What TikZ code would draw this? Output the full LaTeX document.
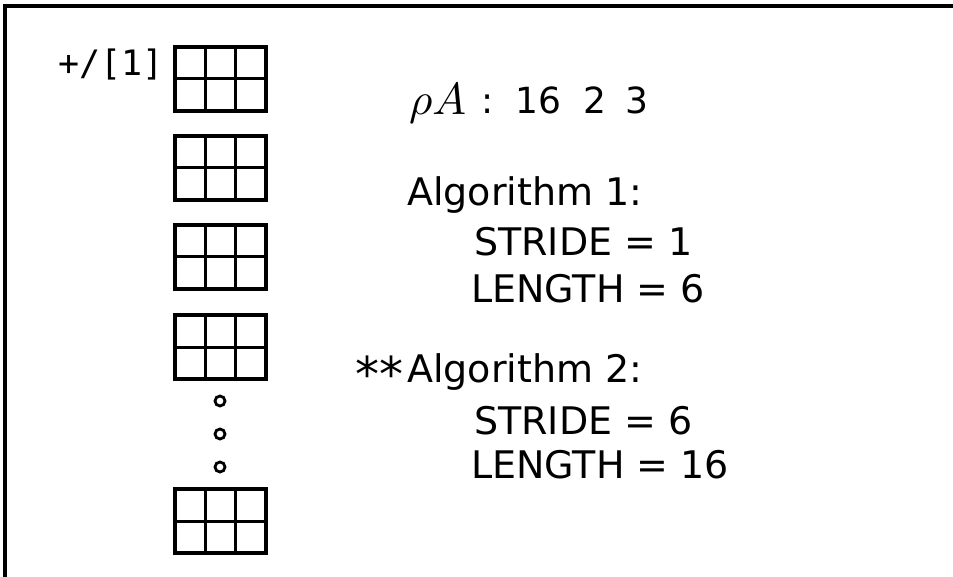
\documentclass[tikz,border=0pt]{standalone}
\usepackage{fontspec}
\usepackage{graphicx}
\usetikzlibrary{calc}
\setmainfont{DejaVu Sans}
\newfontfamily\apmono{DejaVu Sans Mono}
\begin{document}
\begin{tikzpicture}[x=1pt,y=-1pt,
  frameline/.style={line width=3.5pt},
  gridbox/.style={draw,line width=3.4pt,minimum width=91pt,minimum height=64pt,inner sep=0pt,outer sep=0pt},
  gridline/.style={line width=3pt},
  dotmark/.style={draw,circle,line width=2.8pt,minimum size=10pt,inner sep=0pt},
  bigtxt/.style={anchor=base west,inner sep=0pt,font=\fontsize{38}{40}\selectfont},
  numtxt/.style={anchor=base west,inner sep=0pt,font=\fontsize{36}{38}\selectfont},
  monotxt/.style={anchor=base west,inner sep=0pt,font=\apmono\fontsize{35}{37}\selectfont}]
\useasboundingbox (0,0) rectangle (953,577);
% frame (top and left edges only)
\coordinate (tl) at (5,6);
\coordinate (tr) at (953,6);
\coordinate (bl) at (5,577);
\draw[frameline] (tr) -- (tl) -- (bl);
% grids
\foreach \n/\y in {1/47,2/136,3/225,4/315,5/489}{
  \node[gridbox,anchor=north west] (g\n) at (175,\y) {};
  \draw[gridline] (g\n.west) -- (g\n.east);
  \draw[gridline] ($(g\n.north west)!1/3!(g\n.north east)$) -- ($(g\n.south west)!1/3!(g\n.south east)$);
  \draw[gridline] ($(g\n.north west)!2/3!(g\n.north east)$) -- ($(g\n.south west)!2/3!(g\n.south east)$);
}
% dots
\node[dotmark] (d1) at (220,401) {};
\node[dotmark] (d2) at (220,434) {};
\node[dotmark] (d3) at (220,467) {};
% texts
\node[monotxt] (red) at (58,76) {+/[1]};
\node[anchor=base west,inner sep=0pt] (rho) at (409,115) {\scalebox{4.5}{$\rho A$}};
\node[numtxt] (shape) at (481,114) {:\hspace{22pt}16\hspace{22pt}2\hspace{20pt}3};
\node[bigtxt] (alg1) at (407,206) {Algorithm 1:};
\node[bigtxt] (s1) at (474,256) {STRIDE = 1};
\node[bigtxt] (l1) at (471,303) {LENGTH = 6};
\node[bigtxt] (alg2) at (355,382) {\raisebox{-9pt}{\fontsize{48}{50}\selectfont **}\hspace{4pt}Algorithm 2:};
\node[bigtxt] (s2) at (474,434) {STRIDE = 6};
\node[bigtxt] (l2) at (471,478) {LENGTH = 16};
\end{tikzpicture}
\end{document}
